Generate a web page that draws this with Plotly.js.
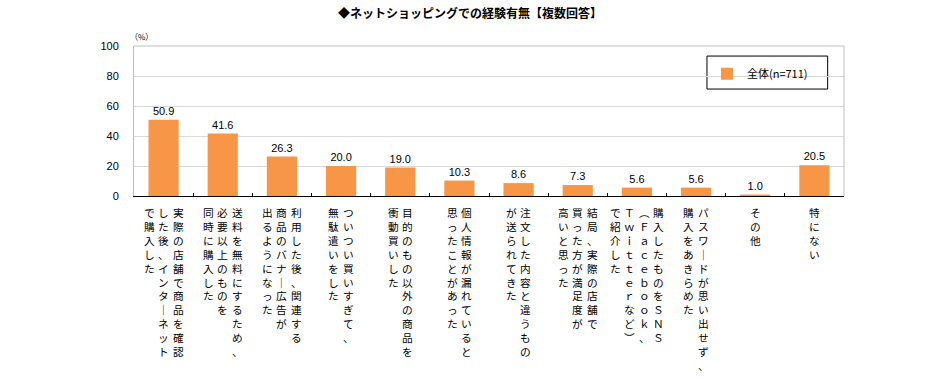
<!DOCTYPE html>
<html>
<head>
<meta charset="utf-8">
<script src="https://cdn.plot.ly/plotly-3.0.1.min.js"></script>
<style>
html,body{margin:0;padding:0;background:#fff;}
#chart{width:940px;height:379px;}
</style>
</head>
<body>
<div id="chart"></div>
<script>
// Category labels: each entry lists its vertical text columns, right to left
const labelColumns = [
  ["実際の店舗で商品を確認", "した後、インターネット", "で購入した"],
  ["送料を無料にするため、", "必要以上のものを", "同時に購入した"],
  ["利用した後、関連する", "商品のバナー広告が", "出るようになった"],
  ["ついつい買いすぎて、", "無駄遣いをした"],
  ["目的のもの以外の商品を", "衝動買いした"],
  ["個人情報が漏れていると", "思ったことがあった"],
  ["注文した内容と違うもの", "が送られてきた"],
  ["結局、実際の店舗で", "買った方が満足度が", "高いと思った"],
  ["購入したものをＳＮＳ", "（Ｆａｃｅｂｏｏｋ、", "Ｔｗｉｔｔｅｒなど）", "で紹介した"],
  ["パスワードが思い出せず、", "購入をあきらめた"],
  ["その他"],
  ["特にない"]
];
const categories = labelColumns.map(c => c.join(""));
const values = [50.9, 41.6, 26.3, 20.0, 19.0, 10.3, 8.6, 7.3, 5.6, 5.6, 1.0, 20.5];
const seriesName = "全体(n=711)";
const yTicks = [0, 20, 40, 60, 80, 100];
const titleText = "◆ネットショッピングでの経験有無【複数回答】";
const unitText = "（%）";

const JP = "'Noto Sans CJK JP', 'Noto Sans', sans-serif";
const NUM = "'Liberation Sans', Arial, 'Noto Sans CJK JP', sans-serif";

// vertical-text glyph substitutions
function verticalize(ch) {
  const map = {"ー": "｜", "（": "︵", "）": "︶"};
  return map[ch] || ch;
}

const annotations = [];
const colSpacing = 14.5;
labelColumns.forEach((cols, i) => {
  const n = cols.length;
  cols.forEach((col, j) => {
    annotations.push({
      x: categories[i], xref: "x",
      y: 0, yref: "paper", yanchor: "top",
      xanchor: "center",
      xshift: ((n - 1) / 2 - j) * colSpacing,
      yshift: -7,
      showarrow: false,
      align: "center",
      text: Array.from(col).map(verticalize).join("<br>"),
      font: {family: JP, size: 10.7, color: "#000"}
    });
  });
});
annotations.push({
  x: 0, xref: "paper", xanchor: "left", xshift: -6,
  y: 1, yref: "paper", yanchor: "bottom", yshift: 2,
  showarrow: false, text: unitText,
  font: {family: JP, size: 8, color: "#000"}
});

const trace = {
  type: "bar",
  x: categories,
  y: values,
  name: seriesName,
  marker: {color: "#F79646"},
  text: values.map(v => v.toFixed(1)),
  textposition: "outside",
  textfont: {family: NUM, size: 11, color: "#000"},
  cliponaxis: false,
  hoverinfo: "x+y"
};

const layout = {
  width: 940, height: 379,
  margin: {l: 134, r: 96, t: 46, b: 183, pad: 0},
  paper_bgcolor: "#fff", plot_bgcolor: "#fff",
  title: {
    text: titleText, xref: "container", x: 0.5, xanchor: "center",
    yref: "container", y: 0.963, yanchor: "middle",
    font: {family: JP, size: 12, color: "#000", weight: "bold"}
  },
  bargap: 0.49,
  showlegend: true,
  legend: {
    x: 0.807, xanchor: "left", y: 0.815, yanchor: "middle",
    bgcolor: "rgba(0,0,0,0)", borderwidth: 0,
    font: {family: JP, size: 11, color: "#000"}
  },
  xaxis: {
    type: "category",
    showticklabels: false,
    tickson: "boundaries",
    ticks: "inside", ticklen: 3, tickcolor: "#000", tickwidth: 1,
    showline: true, linecolor: "#000", linewidth: 1,
    showgrid: false, zeroline: false, fixedrange: true
  },
  yaxis: {
    range: [0, 100],
    tickvals: yTicks,
    ticktext: yTicks.map(String),
    ticks: "", ticklabelstandoff: 12,
    tickfont: {family: NUM, size: 11, color: "#000"},
    showline: true, linecolor: "#bfbfbf", linewidth: 1,
    showgrid: true, gridcolor: "#d9d9d9", gridwidth: 1,
    zeroline: false, fixedrange: true
  },
  shapes: [
    {type: "line", xref: "paper", yref: "paper", x0: 1, x1: 1, y0: 0, y1: 1,
     line: {color: "#bfbfbf", width: 1}},
    {type: "line", xref: "paper", yref: "paper", x0: 0, x1: 1, y0: 1, y1: 1,
     line: {color: "#bfbfbf", width: 1}},
    {type: "rect", xref: "paper", yref: "paper",
     x0: 0.807, x1: 0.977, y0: 0.713, y1: 0.933,
     line: {color: "#000", width: 1}, fillcolor: "#fff", layer: "below"}
  ],
  annotations: annotations
};

Plotly.newPlot("chart", [trace], layout, {displayModeBar: false, staticPlot: true});
</script>
</body>
</html>
